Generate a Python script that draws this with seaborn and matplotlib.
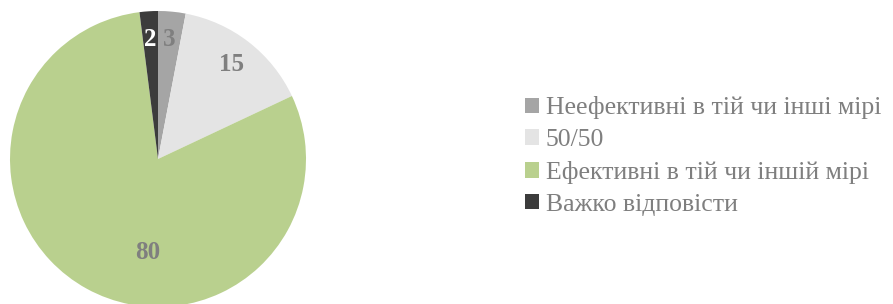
import numpy as np
import seaborn as sns
import matplotlib.pyplot as plt
from matplotlib.patches import Patch

sns.set_theme(style="white")
plt.rcParams['font.family'] = ['Liberation Serif', 'DejaVu Serif']

categories = ['Неефективні в тій чи інші мірі', '50/50',
              'Ефективні в тій чи іншій мірі', 'Важко відповісти']
values = [3, 15, 80, 2]
colors = ['#a5a5a5', '#e4e4e4', '#b9d08e', '#3c3c3c']
label_colors = ['#7f7f7f', '#7f7f7f', '#7f7f7f', '#ffffff']

fig = plt.figure(figsize=(8.93, 3.04), dpi=100)
ax = fig.add_axes([10 / 893, -3 / 304, 296 / 893, 296 / 304])

wedges, texts = ax.pie(values, colors=colors, startangle=90, counterclock=False,
                       labels=[str(v) for v in values], labeldistance=0.81,
                       wedgeprops=dict(linewidth=0))
ax.set_xlim(-1, 1)
ax.set_ylim(-1, 1)
ax.set_aspect('equal')

for t, c in zip(texts, label_colors):
    t.set_color(c)
    t.set_fontsize(18)
    t.set_fontweight('bold')
    t.set_ha('center')
    t.set_va('center')
# Excel-like best-fit placement of the large slice label
texts[2].set_position((-0.068, -0.635))

handles = [Patch(facecolor=c, edgecolor='none') for c in colors]
leg = fig.legend(handles, categories, loc='center left', bbox_to_anchor=(525 / 893, 148 / 304),
                 frameon=False, fontsize=18.5, handlelength=0.55, handleheight=0.55,
                 handletextpad=0.25, labelspacing=0.38, borderpad=0, borderaxespad=0)
for t in leg.get_texts():
    t.set_color('#7f7f7f')

fig.savefig('out.png', dpi=100)
